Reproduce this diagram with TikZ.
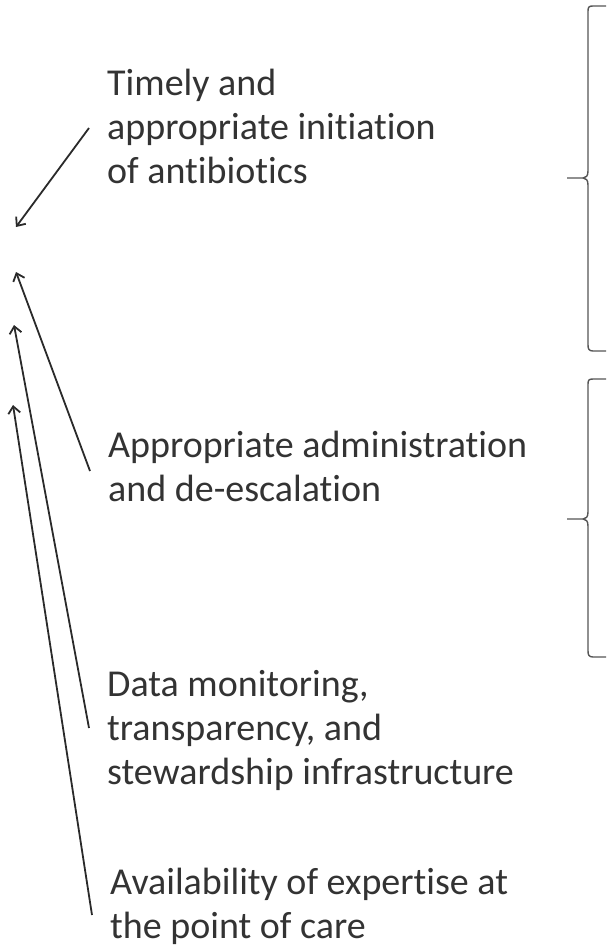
\documentclass[tikz,border=0pt]{standalone}
\usepackage{fontspec}
\setmainfont{Carlito}[Ligatures=CommonOff]
\usetikzlibrary{arrows.meta}
\definecolor{txt}{HTML}{333333}
\definecolor{ln}{HTML}{2A2A2A}
\definecolor{br}{HTML}{555555}
\begin{document}
\begin{tikzpicture}[x=1pt,y=-1pt,
  lbl/.style={anchor=north west,inner sep=0pt,align=left,text=txt,font=\fontsize{38}{44}\selectfont},
  arr/.style={draw=ln,line width=1.8pt,-{Straight Barb[length=7pt,width=12pt,line width=1.8pt]}},
  bracepath/.style={draw=br,line width=1.4pt,line join=round}]
\useasboundingbox (0,0) rectangle (606,950);
% texts
\node[lbl] (t1) at (107,69) {Timely and\\appropriate initiation\\of antibiotics};
\node[lbl] (t2) at (108,431) {Appropriate administration\\and de-escalation};
\node[lbl] (t3) at (107,670) {Data monitoring,\\transparency, and\\stewardship infrastructure};
\node[lbl] (t4) at (110,868) {Availability of expertise at\\the point of care};
% arrow end points
\coordinate (s1) at (89,128);
\coordinate (e1) at (16,227);
\coordinate (s2) at (90,471);
\coordinate (e2) at (16,272);
\coordinate (s3) at (89,728);
\coordinate (e3) at (14,325);
\coordinate (s4) at (92,915);
\coordinate (e4) at (13,405);
\draw[arr] (s1) -- (e1);
\draw[arr] (s2) -- (e2);
\draw[arr] (s3) -- (e3);
\draw[arr] (s4) -- (e4);
% braces
\coordinate (b1t) at (606,6);
\coordinate (b1m) at (567,178);
\coordinate (b1b) at (606,351);
\draw[bracepath] (b1t) -- (593,6) .. controls (589,6) and (588,7) .. (588,11)
  -- (588,171) .. controls (588,176) and (586,178) .. (583,178) -- (b1m)
  (583,178) .. controls (586,178) and (588,180) .. (588,185)
  -- (588,345) .. controls (588,349) and (589,351) .. (593,351) -- (b1b);
\coordinate (b2t) at (606,379);
\coordinate (b2m) at (567,519);
\coordinate (b2b) at (606,657);
\draw[bracepath] (b2t) -- (593,379) .. controls (589,379) and (588,380) .. (588,384)
  -- (588,512) .. controls (588,517) and (586,519) .. (583,519) -- (b2m)
  (583,519) .. controls (586,519) and (588,521) .. (588,526)
  -- (588,651) .. controls (588,655) and (589,657) .. (593,657) -- (b2b);
\end{tikzpicture}
\end{document}
